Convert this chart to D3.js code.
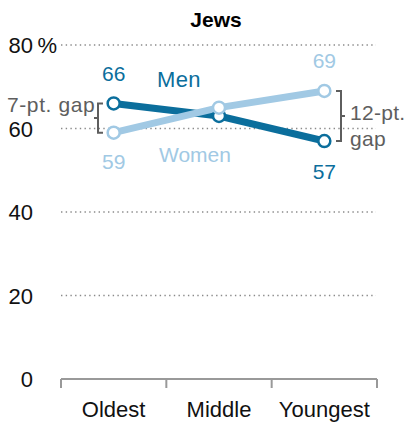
<!DOCTYPE html>
<html><head><meta charset="utf-8">
<script src="https://cdn.jsdelivr.net/npm/d3@7"></script>
<style>
body{margin:0;background:#fff;}
svg text{font-family:"Liberation Sans",Arial,sans-serif;}
</style></head>
<body><svg id="c" width="409" height="423"></svg>
<script>
const categories = ["Oldest","Middle","Youngest"];
const men = [66, 63, 57];
const women = [59, 65, 69];
const yTicks = [0, 20, 40, 60, 80];
const title = "Jews";

const dark = "#0b6e9c", light = "#a1c9e4", gray = "#5e5e5e";
const svg = d3.select("#c");
const x = d3.scaleBand().domain(categories).range([61, 377]);
const cx = d => x(d) + x.bandwidth()/2;
const y = d3.scaleLinear().domain([0, 80]).range([379, 45]);

svg.append("text").attr("x", 216).attr("y", 27).attr("text-anchor","middle")
  .attr("font-weight","bold").attr("font-size",21).attr("fill","#000").text(title);

// gridlines
svg.selectAll(".grid").data(yTicks.filter(t=>t>0)).enter().append("line")
  .attr("x1",61).attr("x2",376).attr("y1",d=>y(d)).attr("y2",d=>y(d))
  .attr("stroke","#8a8a8a").attr("stroke-width",1.6).attr("stroke-dasharray","1.4,3.3");

// y labels
svg.selectAll(".yl").data(yTicks).enter().append("text")
  .attr("x",33).attr("y",d=>y(d)+8).attr("text-anchor","end")
  .attr("font-size",22).attr("fill","#111").text(d=>d);
svg.append("text").attr("x",37.5).attr("y",y(80)+8).attr("font-size",22).attr("fill","#111").text("%");

// x axis
const [r0, r1] = x.range();
svg.append("line").attr("x1",r0).attr("x2",r1).attr("y1",y(0)).attr("y2",y(0))
  .attr("stroke","#999").attr("stroke-width",2);
svg.selectAll(".xt").data(d3.range(categories.length+1)).enter().append("line")
  .attr("x1",i=>r0+i*x.step()).attr("x2",i=>r0+i*x.step())
  .attr("y1",y(0)).attr("y2",y(0)+9).attr("stroke","#999").attr("stroke-width",2);
svg.selectAll(".xl").data(categories).enter().append("text")
  .attr("x",d=>cx(d)).attr("y",417).attr("text-anchor","middle")
  .attr("font-size",22).attr("fill","#111").text(d=>d);

// brackets
function bracket(xv, ya, yb, dir){
  const mid = (ya+yb)/2;
  const p = `M${xv+dir*5},${ya}H${xv}V${yb}H${xv+dir*5}M${xv},${mid}H${xv-dir*4}`;
  svg.append("path").attr("d",p).attr("fill","none").attr("stroke",gray).attr("stroke-width",2);
}
bracket(98, y(men[0]), y(women[0]), 1);
bracket(341, y(women[2]), y(men[2]), -1);
svg.append("text").attr("x",7).attr("y",112).attr("font-size",21).attr("letter-spacing",0.6).attr("fill",gray).text("7-pt. gap");
svg.append("text").attr("x",350).attr("y",120).attr("font-size",21).attr("letter-spacing",0.3).attr("fill",gray).text("12-pt.");
svg.append("text").attr("x",350).attr("y",146).attr("font-size",21).attr("letter-spacing",0.3).attr("fill",gray).text("gap");

// lines
const line = d3.line().x((d,i)=>cx(categories[i])).y(d=>y(d));
svg.append("path").datum(men).attr("d",line).attr("fill","none").attr("stroke",dark).attr("stroke-width",7);
svg.append("path").datum(women).attr("d",line).attr("fill","none").attr("stroke",light).attr("stroke-width",7);
svg.selectAll(".mp").data(men).enter().append("circle")
  .attr("cx",(d,i)=>cx(categories[i])).attr("cy",d=>y(d)).attr("r",6)
  .attr("fill","#fff").attr("stroke",dark).attr("stroke-width",2.5);
svg.selectAll(".wp").data(women).enter().append("circle")
  .attr("cx",(d,i)=>cx(categories[i])).attr("cy",d=>y(d)).attr("r",6)
  .attr("fill","#fff").attr("stroke",light).attr("stroke-width",2.5);

// value labels
svg.append("text").attr("x",cx(categories[0])).attr("y",y(men[0])-22).attr("text-anchor","middle").attr("font-size",21).attr("fill",dark).text(men[0]);
svg.append("text").attr("x",cx(categories[0])).attr("y",y(women[0])+36).attr("text-anchor","middle").attr("font-size",21).attr("fill",light).text(women[0]);
svg.append("text").attr("x",cx(categories[2])).attr("y",y(women[2])-23).attr("text-anchor","middle").attr("font-size",21).attr("fill",light).text(women[2]);
svg.append("text").attr("x",cx(categories[2])).attr("y",y(men[2])+38).attr("text-anchor","middle").attr("font-size",21).attr("fill",dark).text(men[2]);
svg.append("text").attr("x",157).attr("y",87).attr("font-size",22).attr("letter-spacing",0.3).attr("fill",dark).text("Men");
svg.append("text").attr("x",159).attr("y",162).attr("font-size",21).attr("fill",light).text("Women");
</script></body></html>
